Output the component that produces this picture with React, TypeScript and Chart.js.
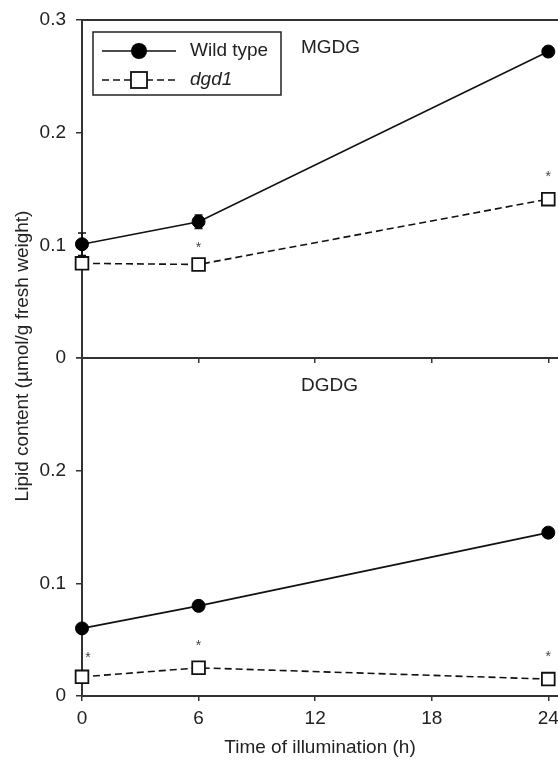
import React, { useEffect, useRef } from 'react';
import { Chart, registerables } from 'chart.js';

Chart.register(...registerables);

// ---------- data ----------
const hours = [0, 6, 24];
const xTickValues = [0, 6, 12, 18, 24];
const yTickValues = [0, 0.1, 0.2, 0.3];

const seriesNames = ['Wild type', 'dgd1'];
const panelLabels = ['MGDG', 'DGDG'];
const xAxisTitle = 'Time of illumination (h)';
const yAxisTitle = 'Lipid content (\u00b5mol/g fresh weight)';

const mgdgWildType = [0.101, 0.121, 0.272];
const mgdgWildTypeErr = [0.01, 0.006, 0.0];
const mgdgDgd1 = [0.084, 0.083, 0.141];
const mgdgAsteriskY: (number | null)[] = [null, 0.101, 0.164];

const dgdgWildType = [0.06, 0.08, 0.145];
const dgdgWildTypeErr = [0, 0, 0];
const dgdgDgd1 = [0.017, 0.025, 0.015];
const dgdgAsteriskY: (number | null)[] = [0.037, 0.048, 0.038];

// ---------- style ----------
const FONT = "'Liberation Sans', Arial, sans-serif";
const AXIS = '#333';
const INK = '#111';
const TEXT = '#222';
const FS = 19;
const CW = 580; // canvas width (page clips at 558)

const fmt = (v: number) => (v === 0 ? '0' : Number(v).toFixed(1));

function makeDatasets(wt: number[], dg: number[]) {
  return [
    {
      label: seriesNames[0],
      data: hours.map((h, i) => ({ x: h, y: wt[i] })),
      borderColor: INK,
      borderWidth: 1.6,
      pointStyle: 'circle',
      pointRadius: 6.5,
      pointBackgroundColor: '#000',
      pointBorderColor: '#000',
      pointBorderWidth: 1,
      tension: 0,
      clip: false,
    },
    {
      label: seriesNames[1],
      data: hours.map((h, i) => ({ x: h, y: dg[i] })),
      borderColor: INK,
      borderWidth: 1.6,
      borderDash: [7, 4],
      pointStyle: 'rect',
      pointRadius: 9,
      pointBackgroundColor: '#fff',
      pointBorderColor: INK,
      pointBorderWidth: 1.8,
      tension: 0,
      clip: false,
    },
  ];
}

function panelPlugin(label: string, err: number[], wt: number[], stars: (number | null)[], extra?: (c: any) => void) {
  return {
    id: 'panel-' + label,
    beforeDatasetsDraw(chart: any) {
      const { ctx } = chart;
      const xs = chart.scales.x;
      const ys = chart.scales.y;
      ctx.save();
      ctx.strokeStyle = INK;
      ctx.lineWidth = 1.5;
      hours.forEach((h, i) => {
        const e = err[i];
        if (!e) return;
        const px = xs.getPixelForValue(h);
        const top = ys.getPixelForValue(wt[i] + e);
        const bot = ys.getPixelForValue(wt[i] - e);
        ctx.beginPath();
        ctx.moveTo(px, top);
        ctx.lineTo(px, bot);
        ctx.moveTo(px - 4, top);
        ctx.lineTo(px + 4, top);
        ctx.moveTo(px - 4, bot);
        ctx.lineTo(px + 4, bot);
        ctx.stroke();
      });
      ctx.restore();
    },
    afterDraw(chart: any) {
      const { ctx, chartArea } = chart;
      const xs = chart.scales.x;
      const ys = chart.scales.y;
      ctx.save();
      ctx.fillStyle = TEXT;
      ctx.font = `${FS}px ${FONT}`;
      ctx.textAlign = 'left';
      ctx.textBaseline = 'middle';
      ctx.fillText(label, 301, chartArea.top + 28);
      ctx.font = `14px ${FONT}`;
      ctx.fillStyle = '#444';
      ctx.textAlign = 'center';
      ctx.textBaseline = 'alphabetic';
      hours.forEach((h, i) => {
        const s = stars[i];
        if (s === null || s === undefined) return;
        const px = xs.getPixelForValue(h) + (h === 0 ? 6 : 0);
        const py = ys.getPixelForValue(s);
        ctx.fillText('*', px, py + 8);
      });
      ctx.restore();
      if (extra) extra(chart);
    },
  };
}

function topExtras(chart: any) {
  const { ctx, chartArea } = chart;
  ctx.save();
  // top frame line
  ctx.strokeStyle = AXIS;
  ctx.lineWidth = 2;
  ctx.beginPath();
  ctx.moveTo(chartArea.left, chartArea.top);
  ctx.lineTo(chart.width, chartArea.top);
  ctx.stroke();
  // legend box
  ctx.lineWidth = 1.5;
  ctx.strokeStyle = '#222';
  ctx.strokeRect(93, 32, 188, 63);
  const rows = [51, 80];
  // row 1
  ctx.strokeStyle = INK;
  ctx.lineWidth = 1.6;
  ctx.beginPath();
  ctx.moveTo(102, rows[0]);
  ctx.lineTo(176, rows[0]);
  ctx.stroke();
  ctx.fillStyle = '#000';
  ctx.beginPath();
  ctx.arc(139, rows[0], 8, 0, Math.PI * 2);
  ctx.fill();
  // row 2
  ctx.setLineDash([7, 4]);
  ctx.beginPath();
  ctx.moveTo(102, rows[1]);
  ctx.lineTo(176, rows[1]);
  ctx.stroke();
  ctx.setLineDash([]);
  ctx.fillStyle = '#fff';
  ctx.fillRect(131, rows[1] - 8, 16, 16);
  ctx.lineWidth = 1.8;
  ctx.strokeRect(131, rows[1] - 8, 16, 16);
  ctx.fillStyle = TEXT;
  ctx.textAlign = 'left';
  ctx.textBaseline = 'middle';
  ctx.font = `${FS}px ${FONT}`;
  ctx.fillText(seriesNames[0], 190, rows[0]);
  ctx.font = `italic ${FS}px ${FONT}`;
  ctx.fillText(seriesNames[1], 190, rows[1]);
  ctx.restore();
}

function bottomExtras(chart: any) {
  const { ctx } = chart;
  ctx.save();
  ctx.fillStyle = TEXT;
  ctx.font = `${FS}px ${FONT}`;
  ctx.textAlign = 'center';
  ctx.textBaseline = 'middle';
  ctx.translate(23, 356);
  ctx.rotate(-Math.PI / 2);
  ctx.fillText(yAxisTitle, 0, 0);
  ctx.restore();
}

function yScale(hideTop: boolean) {
  return {
    type: 'linear',
    min: 0,
    max: 0.3,
    afterBuildTicks: (s: any) => {
      s.ticks = yTickValues.map((v) => ({ value: v }));
    },
    afterFit: (s: any) => {
      s.width = 82;
      s.paddingTop = 0;
      s.paddingBottom = 0;
    },
    ticks: {
      font: { family: FONT, size: FS },
      color: TEXT,
      padding: 10,
      callback: (v: any) => (hideTop && v >= 0.3 ? '' : fmt(v)),
    },
    grid: { drawOnChartArea: false, drawTicks: true, tickLength: 6, color: AXIS, lineWidth: 1.5 },
    border: { display: true, color: AXIS, width: 2 },
  };
}

function xScale(bottom: boolean) {
  return {
    type: 'linear',
    min: 0,
    max: 24.5,
    afterBuildTicks: (s: any) => {
      s.ticks = xTickValues.map((v) => ({ value: v }));
    },
    afterFit: (s: any) => {
      s.height = bottom ? 64 : 12;
      s.paddingLeft = 0;
      s.paddingRight = 0;
    },
    ticks: {
      display: bottom,
      font: { family: FONT, size: FS },
      color: TEXT,
      padding: 6,
      maxRotation: 0,
      callback: (v: any) => String(v),
    },
    title: {
      display: bottom,
      text: xAxisTitle,
      font: { family: FONT, size: FS },
      color: TEXT,
      padding: { top: 0, bottom: 1 },
    },
    grid: { drawOnChartArea: false, drawTicks: true, tickLength: 5, color: AXIS, lineWidth: 1.5 },
    border: { display: true, color: AXIS, width: 2 },
  };
}

export default function App() {
  const topRef = useRef<HTMLCanvasElement>(null);
  const botRef = useRef<HTMLCanvasElement>(null);

  useEffect(() => {
    const common = (bottom: boolean) => ({
      animation: false,
      responsive: false,
      events: [],
      plugins: { legend: { display: false }, tooltip: { enabled: false } },
      scales: { x: xScale(bottom), y: yScale(bottom) },
    });
    const top = new Chart(topRef.current as HTMLCanvasElement, {
      type: 'line',
      data: { datasets: makeDatasets(mgdgWildType, mgdgDgd1) as any },
      options: {
        ...(common(false) as any),
        layout: { autoPadding: false, padding: { top: 20, left: 0, right: CW - 558, bottom: 0 } },
      },
      plugins: [panelPlugin(panelLabels[0], mgdgWildTypeErr, mgdgWildType, mgdgAsteriskY, topExtras)],
    });
    const bot = new Chart(botRef.current as HTMLCanvasElement, {
      type: 'line',
      data: { datasets: makeDatasets(dgdgWildType, dgdgDgd1) as any },
      options: {
        ...(common(true) as any),
        layout: { autoPadding: false, padding: { top: 358, left: 0, right: CW - 558, bottom: 0 } },
      },
      plugins: [panelPlugin(panelLabels[1], dgdgWildTypeErr, dgdgWildType, dgdgAsteriskY, bottomExtras)],
    });
    return () => {
      top.destroy();
      bot.destroy();
    };
  }, []);

  return (
    <div style={{ position: 'absolute', left: 0, top: 0, width: 558, height: 760, overflow: 'hidden', background: '#fff' }}>
      <canvas ref={topRef} width={CW} height={370} style={{ position: 'absolute', left: 0, top: 0, width: CW, height: 370 }} />
      <canvas ref={botRef} width={CW} height={760} style={{ position: 'absolute', left: 0, top: 0, width: CW, height: 760 }} />
    </div>
  );
}
